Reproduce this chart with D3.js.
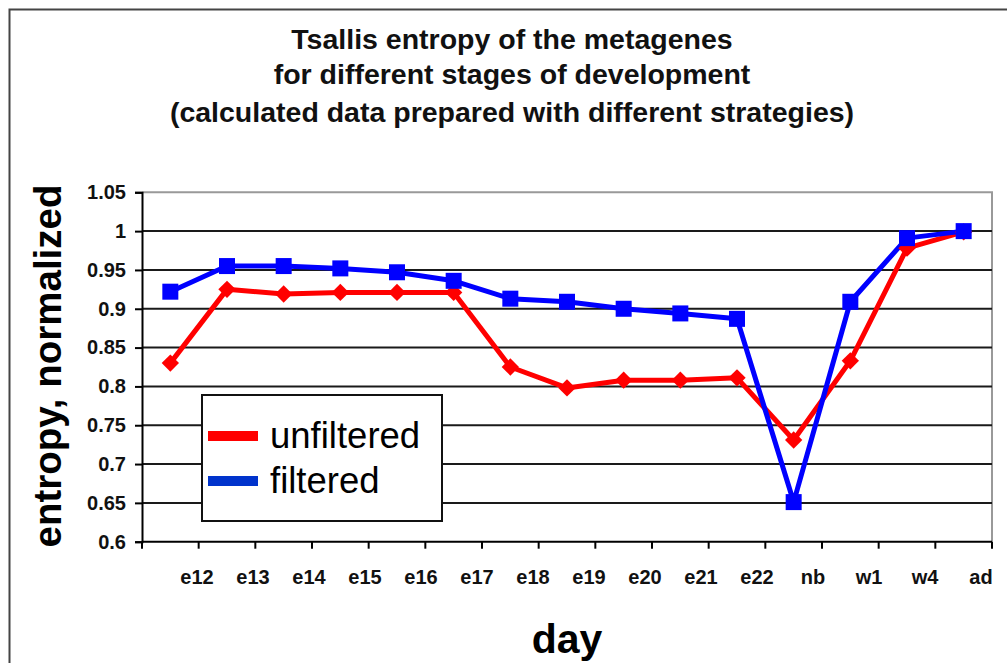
<!DOCTYPE html>
<html><head><meta charset="utf-8">
<script src="https://cdn.jsdelivr.net/npm/d3@7"></script>
<style>
html,body{margin:0;padding:0;background:#fff;}
svg{display:block;font-family:"Liberation Sans",Arial,sans-serif;}
</style></head>
<body><svg id="c" width="1007" height="663"></svg>
<script>
const categories = ["e12","e13","e14","e15","e16","e17","e18","e19","e20","e21","e22","nb","w1","w4","ad"];
const unfiltered = [0.830,0.925,0.919,0.921,0.921,0.921,0.825,0.798,0.808,0.808,0.811,0.731,0.833,0.978,0.999];
const filtered   = [0.922,0.955,0.955,0.952,0.947,0.936,0.913,0.909,0.900,0.894,0.887,0.651,0.909,0.991,1.000];
const yTicks = [0.6,0.65,0.7,0.75,0.8,0.85,0.9,0.95,1,1.05];
const titleLines = ["Tsallis entropy of the metagenes","for different stages of development","(calculated data prepared with different strategies)"];
const seriesNames = ["unfiltered","filtered"];

const svg = d3.select("#c");
// outer frame
svg.append("rect").attr("x",9.5).attr("y",9.5).attr("width",1010).attr("height",670)
  .attr("fill","#fff").attr("stroke","#444").attr("stroke-width",2);

const L=142, R=992, T=192.3, B=541.7;
const x = d3.scaleBand().domain(categories).range([L,R]).paddingInner(0).paddingOuter(0);
const y = d3.scaleLinear().domain([0.6,1.05]).range([B,T]);

// plot border (top/right gray)
svg.append("path").attr("d",`M${L},${T}H${R}V${B}`).attr("fill","none").attr("stroke","#999").attr("stroke-width",2);

// gridlines
svg.append("g").selectAll("line").data(yTicks.filter(v=>v>0.6 && v<1.05)).join("line")
  .attr("x1",L).attr("x2",R).attr("y1",d=>y(d)).attr("y2",d=>y(d))
  .attr("stroke","#1a1a1a").attr("stroke-width",2);

// y axis
const yAxis = d3.axisLeft(y).tickValues(yTicks).tickSize(7).tickPadding(9).tickFormat(d=>d3.format("")(+d.toFixed(2)));
const gy = svg.append("g").attr("transform",`translate(${L},0)`).call(yAxis);
gy.select(".domain").attr("stroke","#000").attr("stroke-width",2);
gy.selectAll(".tick line").attr("stroke","#000").attr("stroke-width",2);
gy.selectAll(".tick text").attr("font-size",20).attr("font-weight","bold").attr("fill","#111")
  .attr("font-family","'Liberation Sans',Arial,sans-serif");

// x axis: ticks at band boundaries
const bounds = categories.map(c=>x(c)).concat([R]);
const gx = svg.append("g");
gx.append("line").attr("x1",L).attr("x2",R).attr("y1",B).attr("y2",B).attr("stroke","#000").attr("stroke-width",2);
gx.selectAll("line.t").data(bounds).join("line").attr("class","t")
  .attr("x1",d=>d).attr("x2",d=>d).attr("y1",B).attr("y2",B+7).attr("stroke","#000").attr("stroke-width",2);
const xl = d3.scalePoint().domain(categories).range([197,981]);
gx.selectAll("text").data(categories).join("text")
  .attr("x",d=>xl(d)).attr("y",584).attr("text-anchor","middle")
  .attr("font-size",20).attr("font-weight","bold").attr("fill","#111").text(d=>d);

// lines
const colors = ["#ff0000","#0000ff"];
const data = [unfiltered, filtered];
const line = d3.line().x((d,i)=>x(categories[i])+x.bandwidth()/2).y(d=>y(d));
data.forEach((s,k)=>{
  svg.append("path").datum(s).attr("d",line).attr("fill","none")
    .attr("stroke",colors[k]).attr("stroke-width",5).attr("stroke-linejoin","round");
});
// markers: red diamonds
svg.append("g").selectAll("path").data(unfiltered).join("path")
  .attr("d",d3.symbol().type(d3.symbolSquare).size(150))
  .attr("transform",(d,i)=>`translate(${x(categories[i])+x.bandwidth()/2},${y(d)}) rotate(45)`)
  .attr("fill","#ff0000");
// blue squares
svg.append("g").selectAll("rect").data(filtered).join("rect")
  .attr("x",(d,i)=>x(categories[i])+x.bandwidth()/2-8).attr("y",d=>y(d)-8)
  .attr("width",16).attr("height",16).attr("fill","#0000ff");

// title
svg.append("g").selectAll("text").data(titleLines).join("text")
  .attr("x",512).attr("y",(d,i)=>[49,84,122][i]).attr("text-anchor","middle")
  .attr("font-size",28.5).attr("font-weight","bold").attr("fill","#111").text(d=>d);

// axis titles
svg.append("text").attr("transform","translate(61,366) rotate(-90)").attr("text-anchor","middle")
  .attr("font-size",38.5).attr("font-weight","bold").attr("fill","#000").text("entropy, normalized");
svg.append("text").attr("x",567).attr("y",653).attr("text-anchor","middle")
  .attr("font-size",41).attr("font-weight","bold").attr("fill","#000").text("day");

// legend
const lg = svg.append("g");
lg.append("rect").attr("x",202).attr("y",395).attr("width",240).attr("height",126)
  .attr("fill","#fff").attr("stroke","#111").attr("stroke-width",2);
const legColors = ["#ff0000","#0033cc"];
seriesNames.forEach((n,i)=>{
  const cy = [436,481][i];
  lg.append("line").attr("x1",208).attr("x2",258).attr("y1",cy).attr("y2",cy)
    .attr("stroke",legColors[i]).attr("stroke-width",10);
  lg.append("text").attr("x",270).attr("y",cy+12).attr("font-size",36.5).attr("fill","#000").text(n);
});
</script></body></html>
